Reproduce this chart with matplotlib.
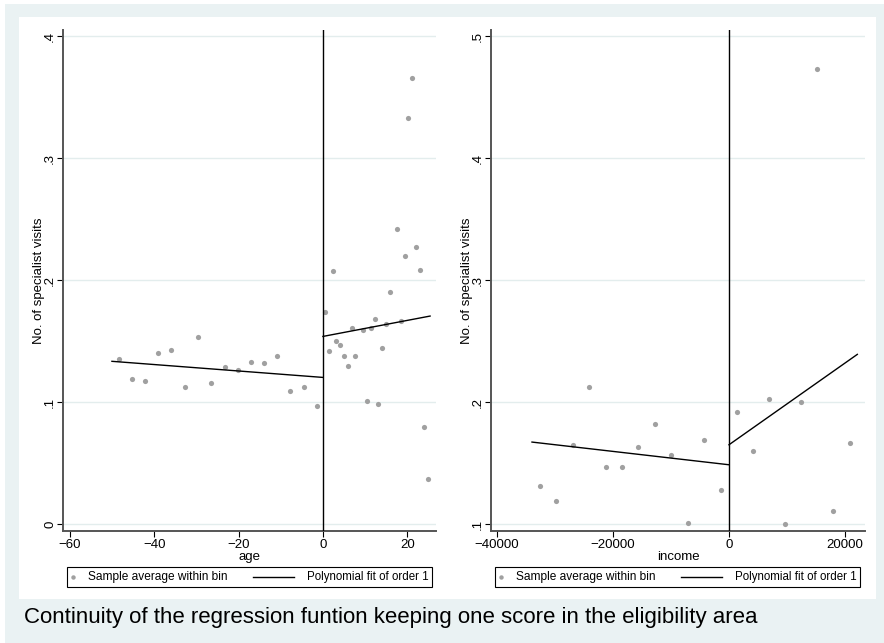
"""
Regression discontinuity plots: specialist visits by age and by income
"""

from matplotlib import pyplot as plt
from matplotlib.lines import Line2D
from matplotlib.patches import Rectangle

plt.rcParams['font.family'] = ['Liberation Sans', 'DejaVu Sans']

# binned sample averages, age panel
age_bins = [-48.4, -45.2, -42.1, -39.0, -35.9, -32.7, -29.6, -26.5, -23.3, -20.2,
            -17.1, -13.9, -10.8, -7.7, -4.6, -1.4,
            0.6, 1.5, 2.4, 3.2, 4.1, 5.1, 5.9, 6.8, 7.7, 9.5, 10.4, 11.3, 12.3, 13.1,
            14.0, 14.9, 15.8, 17.5, 18.5, 19.4, 20.2, 21.2, 22.1, 23.0, 23.9, 24.8]
age_visits = [0.135, 0.119, 0.117, 0.140, 0.143, 0.112, 0.153, 0.116, 0.129, 0.126,
              0.133, 0.132, 0.138, 0.109, 0.112, 0.0965,
              0.1735, 0.1415, 0.2076, 0.150, 0.147, 0.1375, 0.1295, 0.161, 0.1375,
              0.159, 0.101, 0.1607, 0.168, 0.0986, 0.144, 0.164, 0.190, 0.242,
              0.1664, 0.2194, 0.333, 0.366, 0.227, 0.208, 0.0798, 0.0369]

# linear fit on each side of the cutoff, age panel
age_fit_left_x = [-50, 0]
age_fit_left_y = [0.1334, 0.1202]
age_fit_right_x = [0, 25.4]
age_fit_right_y = [0.1538, 0.1705]

# binned sample averages, income panel
income_bins = [-32586, -29770, -26954, -24080, -21264, -18448, -15632, -12758,
               -9943, -7126, -4310, -1437,
               1322, 4080, 6897, 9713, 12414, 15230, 17988, 20805]
income_visits = [0.1314, 0.1191, 0.1648, 0.2125, 0.147, 0.1467, 0.1631, 0.182,
                 0.1563, 0.1006, 0.169, 0.1281,
                 0.1915, 0.160, 0.2027, 0.0998, 0.1997, 0.4732, 0.1109, 0.1664]

income_fit_left_x = [-33966, 0]
income_fit_left_y = [0.1672, 0.1486]
income_fit_right_x = [0, 22126]
income_fit_right_y = [0.165, 0.2391]

age_xticks = [-60, -40, -20, 0, 20]
age_yticks = [0, 0.1, 0.2, 0.3, 0.4]
age_ylabels = ['0', '.1', '.2', '.3', '.4']
income_xticks = [-40000, -20000, 0, 20000]
income_yticks = [0.1, 0.2, 0.3, 0.4, 0.5]
income_ylabels = ['.1', '.2', '.3', '.4', '.5']

legend_labels = ['Sample average within bin', 'Polynomial fit of order 1']
caption = "Continuity of the regression funtion keeping one score in the eligibility area"

W, H = 884, 643
BG = '#eaf2f3'
GRID = '#e3eded'
DOTS = '#a0a0a0'


def frac(x0, y0, x1, y1):
    """ pixel box (top-left origin) to figure fraction [left, bottom, width, height] """
    return [x0 / W, 1 - y1 / H, (x1 - x0) / W, (y1 - y0) / H]


def fx(x):
    return x / W


def fy(y):
    return 1 - y / H


fig = plt.figure(figsize=(W / 100, H / 100), dpi=100, facecolor='white')
fig.patches.append(Rectangle((5 / W, 0), 1, 1 - 4 / H, transform=fig.transFigure,
                             facecolor=BG, edgecolor='none', zorder=-10))
l, b, w, h = frac(19, 17, 876, 599)
fig.patches.append(Rectangle((l, b), w, h, transform=fig.transFigure,
                             facecolor='white', edgecolor='none', zorder=-9))


def draw_legend(x0):
    """ Stata-style legend box below a panel, x0 = left pixel of the box """
    l, b, w, h = frac(x0, 567, x0 + 365, 587)
    fig.patches.append(Rectangle((l, b), w, h, transform=fig.transFigure,
                                 facecolor='white', edgecolor='black', lw=0.8))
    yc = fy(577)
    fig.lines.append(Line2D([fx(x0 + 6)], [yc], marker='o', ls='none', color=DOTS,
                            markersize=3.2, markeredgewidth=0, transform=fig.transFigure))
    fig.text(fx(x0 + 21), yc, legend_labels[0], fontsize=8.6, va='center', ha='left')
    fig.lines.append(Line2D([fx(x0 + 186), fx(x0 + 227)], [yc, yc], color='black', lw=1,
                            transform=fig.transFigure))
    fig.text(fx(x0 + 240), yc, legend_labels[1], fontsize=8.3, va='center', ha='left')


def draw_panel(box, xs, ys, fit_lx, fit_ly, fit_rx, fit_ry, xlim, ylim,
               xticks, yticks, ylabels, xlabel):
    ax = fig.add_axes(frac(*box))
    ax.set_facecolor('white')
    ax.scatter(xs, ys, s=14, color=DOTS, linewidths=0, zorder=3)
    ax.plot(fit_lx, fit_ly, color='black', lw=1, zorder=4)
    ax.plot(fit_rx, fit_ry, color='black', lw=1, zorder=4)
    ax.axvline(0, color='black', lw=1, zorder=4)
    ax.set_xlim(*xlim)
    ax.set_ylim(*ylim)
    ax.set_xticks(xticks)
    ax.set_xticklabels([str(t).replace('-', '\u2212') for t in xticks])
    ax.set_yticks(yticks)
    ax.set_yticklabels(ylabels, rotation=90, va='center')
    for t in yticks:
        ax.axhline(t, color=GRID, lw=1, zorder=1)
    for s in ['top', 'right']:
        ax.spines[s].set_visible(False)
    for s in ['left', 'bottom']:
        ax.spines[s].set_color('#555555')
        ax.spines[s].set_linewidth(1.4)
    ax.tick_params(direction='out', length=4, width=0.8, labelsize=9.5)
    ax.tick_params(axis='x', pad=2)
    ax.tick_params(axis='y', pad=1)
    ax.set_xlabel(xlabel, fontsize=9.5, labelpad=0)
    ax.set_ylabel('No. of specialist visits', fontsize=9.5, labelpad=-1)
    draw_legend(box[0] + 4)
    return ax


draw_panel((63, 30, 436, 531), age_bins, age_visits,
           age_fit_left_x, age_fit_left_y, age_fit_right_x, age_fit_right_y,
           (-61.6, 26.8), (-0.0057, 0.405),
           age_xticks, age_yticks, age_ylabels, 'age')

draw_panel((491, 30, 865, 531), income_bins, income_visits,
           income_fit_left_x, income_fit_left_y, income_fit_right_x, income_fit_right_y,
           (-41034, 23448), (0.0943, 0.505),
           income_xticks, income_yticks, income_ylabels, 'income')

fig.text(24 / W, 1 - 617 / H, caption, fontsize=16, va='center', ha='left')

fig.savefig('out.png', dpi=100, facecolor=fig.get_facecolor())
